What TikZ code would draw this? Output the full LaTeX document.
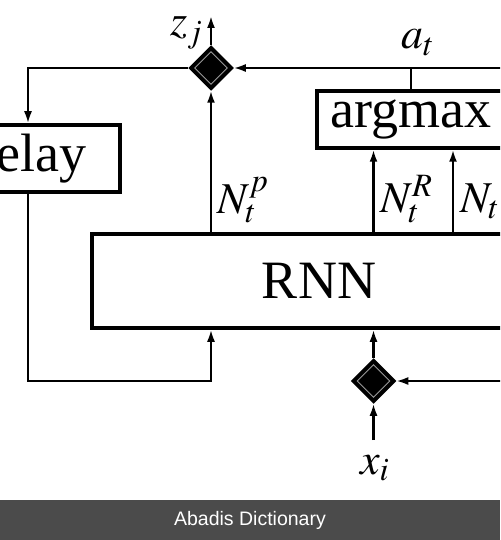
\documentclass[tikz,border=0pt]{standalone}
\usepackage{mathptmx}
\usepackage{fontspec}
\setmainfont{Liberation Serif}
\newfontfamily\bannerfont{Liberation Sans}
\usetikzlibrary{arrows.meta,shapes.geometric,positioning,calc}
\definecolor{bannergray}{HTML}{4B4B4B}
\tikzset{
  block/.style={draw,line width=3.5pt,inner sep=0pt,font=\fontsize{54}{60}\selectfont},
  gate/.style={diamond,draw,fill=black,line width=2.5pt,minimum size=43pt,inner sep=0pt},
  gatering/.style={diamond,draw=white!60!black,line width=0.9pt,minimum size=33pt,inner sep=0pt},
  conn/.style={line width=2.2pt},
  arr/.style={conn,-{Latex[length=12pt,width=8pt]}},
  lbl/.style={inner sep=0pt,anchor=base west,font=\fontsize{44}{48}\selectfont}
}

\begin{document}
\begin{tikzpicture}[x=1pt,y=-1pt]
  \useasboundingbox (0,0) rectangle (500,540);
  \fill[bannergray] (0,500) rectangle (500,540);
  \node[text=white,font=\bannerfont\fontsize{19.5}{22}\selectfont] (banner) at (250,520) {Abadis Dictionary};
  \begin{scope}
    \clip (0,0) rectangle (500,500);
    \node[block,minimum width=454pt,minimum height=94pt] (rnn) at (319,281) {RNN};
    \node[block,minimum width=188pt,minimum height=57pt] (argmax) at (411,119.5) {argmax};
    \node[block,minimum width=184pt,minimum height=67pt] (delay) at (28,158.5) {delay};
    \node[gate] (zj) at (211,68) {};
    \node[gatering] at (zj) {};
    \node[gate] (xin) at (373.5,381) {};
    \node[gatering] at (xin) {};
    % free ends
    \coordinate (zout) at (211,16);
    \coordinate (topright) at (510,68);
    \coordinate (rightin) at (510,381);
    \coordinate (xsrc) at (373.5,440);
    \coordinate (fb) at (211,381);
    \coordinate (nt) at (453,0);
    % connectors
    \draw[arr] (zj.north) -- (zout);
    \draw[arr] (topright) -- (zj.east);
    \draw[conn] (argmax.north) -- (argmax.north |- topright);
    \draw[arr] (zj.west) -| (delay.north);
    \draw[arr] (delay.south) |- (fb) -- (rnn.south -| fb);
    \draw[arr] (rnn.north -| zj) -- (zj.south);
    \draw[arr] (rnn.north -| xin) -- (argmax.south -| xin);
    \draw[arr] (rnn.north -| nt) -- (argmax.south -| nt);
    \draw[arr] (xin.north) -- (rnn.south -| xin);
    \draw[arr] (xsrc) -- (xin.south);
    \draw[arr] (rightin) -- (xin.east);
    % labels
    \node[lbl] (zlbl) at (170,36) {$z_j$};
    \node[lbl] (albl) at (401,49) {$a_t$};
    \node[lbl] (nplbl) at (217,213) {$N_t^p$};
    \node[lbl] (nrlbl) at (380,212) {$N_t^R$};
    \node[lbl] (ntlbl) at (460,212) {$N_t$};
    \node[lbl] (xlbl) at (360,474) {$x_i$};
  \end{scope}
\end{tikzpicture}
\end{document}
